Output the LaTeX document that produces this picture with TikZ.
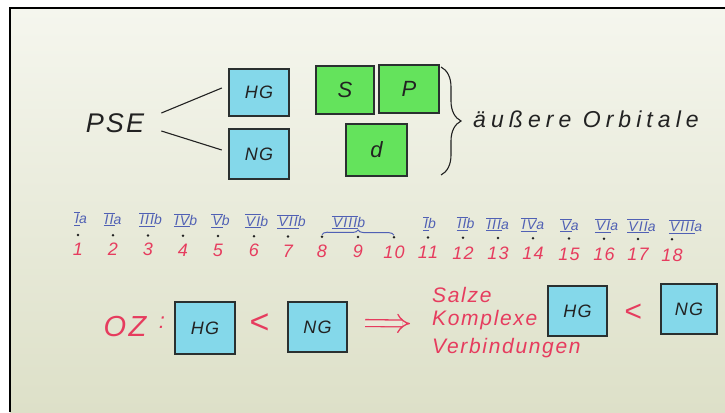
\documentclass[tikz,border=0pt]{standalone}
\usepackage{fontspec}
\setmainfont{Liberation Sans}
\newfontfamily\hw[LetterSpace=8]{Liberation Sans}
\newfontfamily\hwwide[LetterSpace=22]{Liberation Sans}
\usetikzlibrary{arrows.meta,decorations.pathreplacing,calc}
\definecolor{ink}{HTML}{222222}
\definecolor{bluec}{HTML}{5060B4}
\definecolor{pinkc}{HTML}{E63C5E}
\definecolor{cyanfill}{HTML}{84D8EA}
\definecolor{greenfill}{HTML}{64E35C}
\definecolor{cardline}{HTML}{2A3030}
\definecolor{bgtop}{HTML}{F5F6EE}
\definecolor{bgmid}{HTML}{F4F1E4}
\definecolor{bgbot}{HTML}{DDE0C8}
\definecolor{bgdbl}{HTML}{EAE9D8}
\newcommand\hwf[1]{\hw\itshape\fontsize{#1}{#1}\selectfont}
\newcommand\hwwf[1]{\hwwide\itshape\fontsize{#1}{#1}\selectfont}
\newcommand\grp[1]{\setbox0\hbox{#1}%
  \rlap{\kern-1pt\rule[\dimexpr\ht0+1.2pt\relax]{\dimexpr\wd0+2pt\relax}{0.9pt}}%
  \rlap{\kern-1pt\rule[-2pt]{\dimexpr\wd0+2pt\relax}{0.9pt}}\box0}
\begin{document}
\begin{tikzpicture}[x=1pt,y=-1pt,
  card/.style={draw=cardline, line width=2.4pt, inner sep=0pt, text=ink, font=\hwf{18}},
  cyancard/.style={card, fill=cyanfill},
  greencard/.style={card, fill=greenfill, font=\hwf{22}},
  lbl/.style={inner sep=0pt, text=ink},
  pinklbl/.style={inner sep=0pt, text=pinkc},
  num/.style={pinklbl, font=\hwf{18}},
  rom/.style={inner sep=0pt, text=bluec, font=\hwf{14}},
  dotn/.style={circle, fill=ink, inner sep=0pt, minimum size=2.8pt},
  handline/.style={draw=ink, line width=1.1pt},
  dblarrow/.style={draw=pinkc, line width=1.3pt, double=bgdbl, double distance=5.5pt, -{Implies}}
]
\useasboundingbox (0,0) rectangle (725,412);
% background
\fill[white] (0,0) rectangle (725,412);
\shade[top color=bgtop, middle color=bgmid, bottom color=bgbot] (10,8) rectangle (725,412);
\draw[black, line width=2.5pt] (10,412) -- (10,8) -- (725,8);

% upper part
\node[lbl, font=\hwf{27}] (pse) at (115,123) {PSE};
\node[cyancard, minimum width=60pt, minimum height=47pt] (hg1) at (259,92.5) {HG};
\node[cyancard, minimum width=60pt, minimum height=50pt] (ng1) at (259,154) {NG};
\draw[handline] ($(pse.east)+(17,-10)$) -- ($(hg1.west)+(-6,-4.5)$);
\draw[handline] ($(pse.east)+(17,8)$) -- ($(ng1.west)+(-6,-4)$);
\node[greencard, minimum width=58pt, minimum height=48pt] (s) at (345,90) {S};
\node[greencard, minimum width=60pt, minimum height=48pt] (p) at (409,89) {P};
\node[greencard, minimum width=61pt, minimum height=52pt] (d) at (376.5,150) {d};
\coordinate (bt) at (441,67);
\coordinate (bb) at (441,175);
\draw[handline, decorate, decoration={brace, amplitude=20pt}] (bt) -- (bb);
\node[lbl, font=\hwwf{23}, anchor=base west] (orb) at (473,127) {äußere Orbitale};

% group row
\foreach \n/\x in {1/78,2/113,3/148,4/183,5/218,6/254,7/288,8/322,9/358,10/394,11/428,12/463,13/498,14/533,15/569,16/604,17/638,18/672}{
  \node[dotn] (d\n) at (\x,{235+0.007*(\x-78)}) {};
  \node[num] (n\n) at (\x,{249+0.01*(\x-78)}) {\n};
}
\foreach \k/\x/\t in {1/81/{\grp{I}a},2/113/{\grp{II}a},3/151/{\grp{III}b},4/186/{\grp{IV}b},5/221/{\grp{V}b},6/257/{\grp{VI}b},7/292/{\grp{VII}b},8/349/{\grp{VIII}b},11/430/{\grp{I}b},12/466/{\grp{II}b},13/498/{\grp{III}a},14/533/{\grp{IV}a},15/570/{\grp{V}a},16/607/{\grp{VI}a},17/642/{\grp{VII}a},18/686/{\grp{VIII}a}}{
  \node[rom] (r\k) at (\x,{219+0.013*(\x-78)}) {\t};
}
\draw[draw=bluec, line width=1pt, decorate, decoration={brace, amplitude=5pt}] ($(d8)+(0,-2)$) -- ($(d10)+(0,-2)$);

% bottom row
\node[pinklbl, font=\hwf{29}] (oz) at (125,327) {OZ};
\node[pinklbl, font=\hwf{22}] (colon) at (162,323) {:};
\node[cyancard, minimum width=60pt, minimum height=52pt] (hg2) at (205,328) {HG};
\node[pinklbl, font=\hwf{34}] (lt1) at (259,324) {<};
\node[cyancard, minimum width=59pt, minimum height=50pt] (ng2) at (317.5,327) {NG};
\node[pinklbl, font=\hwf{21}, anchor=base west] (salze) at (432,302) {Salze};
\node[pinklbl, font=\hwf{21}, anchor=base west] (komp) at (432,325) {Komplexe};
\node[pinklbl, font=\hwf{21}, anchor=base west] (verb) at (432,353) {Verbindungen};
\draw[dblarrow] ($(ng2.east)+(17,-4)$) -- ($(komp.west)+(-22,4)$);
\node[cyancard, minimum width=59pt, minimum height=50pt] (hg3) at (577.5,311) {HG};
\node[pinklbl, font=\hwf{30}] (lt2) at (633,313) {<};
\node[cyancard, minimum width=56pt, minimum height=50pt] (ng3) at (689,309) {NG};
\end{tikzpicture}
\end{document}
